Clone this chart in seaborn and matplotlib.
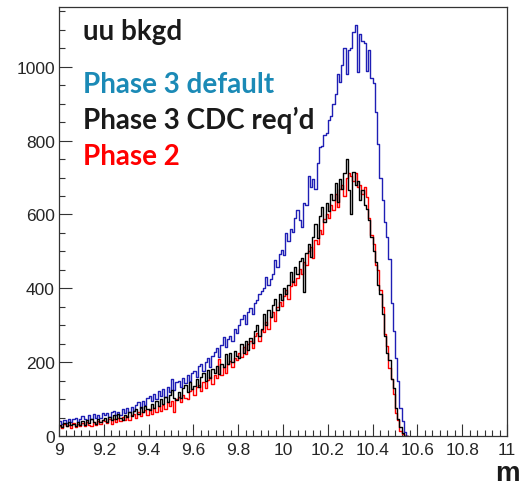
import numpy as np
import pandas as pd
import matplotlib
matplotlib.use("Agg")
import matplotlib.pyplot as plt
from matplotlib.ticker import MultipleLocator
import seaborn as sns

# ---------------- data (bin contents, 0.01-wide bins starting at 9.00) ----------------
bin_start = 9.0
bin_width = 0.01

phase3_default = [
    40, 33, 44, 35, 46, 37, 45, 49, 38, 47,
    53, 45, 42, 56, 47, 59, 48, 57, 50, 61,
    58, 62, 51, 64, 67, 56, 66, 58, 72, 63,
    75, 64, 79, 69, 84, 92, 76, 96, 83, 102,
    108, 94, 114, 100, 122, 108, 126, 106, 134, 120,
    155, 125, 146, 150, 134, 158, 144, 164, 148, 170,
    176, 160, 190, 196, 176, 200, 212, 186, 218, 228,
    238, 214, 246, 268, 240, 264, 272, 256, 290, 278,
    300, 318, 328, 304, 336, 346, 330, 360, 368, 385,
    392, 402, 432, 410, 426, 440, 476, 458, 494, 505,
    490, 550, 528, 560, 552, 590, 612, 584, 565, 630,
    625, 705, 675, 695, 670, 740, 782, 786, 815, 822,
    855, 866, 900, 925, 980, 960, 1005, 1050, 980, 1045,
    1050, 1095, 1112, 985, 1090, 1070, 1065, 990, 1045, 970,
    955, 878, 792, 700, 638, 579, 540, 480, 360, 285,
    210, 150, 75, 40, 10, 0,
]

phase3_cdc = [
    30, 24, 35, 27, 38, 29, 33, 26, 37, 31,
    40, 31, 43, 35, 46, 37, 32, 47, 38, 44,
    50, 39, 52, 43, 56, 46, 60, 48, 42, 58,
    52, 64, 55, 68, 74, 60, 78, 65, 82, 73,
    70, 88, 76, 94, 80, 99, 86, 106, 92, 112,
    124, 104, 98, 120, 104, 130, 138, 118, 146, 128,
    135, 154, 132, 160, 170, 148, 178, 158, 182, 170,
    190, 168, 196, 186, 222, 196, 226, 200, 230, 218,
    212, 248, 224, 256, 232, 266, 252, 284, 300, 270,
    290, 330, 300, 340, 322, 356, 372, 340, 385, 368,
    400, 385, 410, 445, 418, 458, 440, 475, 482, 390,
    495, 520, 485, 540, 575, 535, 595, 620, 580, 630,
    610, 655, 640, 685, 635, 695, 670, 712, 751, 665,
    600, 715, 680, 690, 640, 665, 625, 615, 585, 540,
    500, 470, 410, 385, 330, 270, 225, 205, 155, 130,
    75, 45, 25, 8, 0, 0,
]

phase2 = [
    28, 22, 33, 26, 31, 22, 34, 25, 32, 27,
    35, 27, 38, 30, 26, 39, 31, 41, 33, 43,
    40, 35, 45, 33, 47, 38, 49, 40, 51, 42,
    53, 44, 56, 60, 48, 64, 54, 66, 70, 58,
    72, 60, 76, 66, 80, 69, 85, 74, 91, 80,
    95, 64, 100, 106, 92, 112, 104, 100, 122, 126,
    112, 132, 138, 122, 146, 130, 152, 160, 140, 166,
    158, 208, 165, 186, 170, 196, 202, 186, 212, 205,
    226, 215, 240, 222, 248, 258, 238, 270, 280, 258,
    288, 282, 310, 290, 322, 335, 312, 350, 362, 352,
    380, 395, 372, 405, 420, 410, 428, 452, 440, 470,
    462, 500, 512, 482, 532, 520, 558, 548, 588, 600,
    590, 625, 612, 655, 620, 668, 680, 650, 700, 712,
    705, 690, 712, 675, 680, 655, 675, 648, 590, 545,
    520, 462, 450, 395, 350, 275, 245, 185, 155, 115,
    62, 42, 14, 5, 0, 0,
]

x_ticks = [9, 9.2, 9.4, 9.6, 9.8, 10, 10.2, 10.4, 10.6, 10.8, 11]
x_tick_labels = ["9", "9.2", "9.4", "9.6", "9.8", "10", "10.2", "10.4", "10.6", "10.8", "11"]
y_ticks = [0, 200, 400, 600, 800, 1000]

title_text = "uu bkgd"
legend_labels = ["Phase 3 default", "Phase 3 CDC req\u2019d", "Phase 2"]
x_label = "m"

# ---------------- build table ----------------
n = len(phase3_default)
centers = bin_start + bin_width * (np.arange(n) + 0.5)
df = pd.concat([
    pd.DataFrame({"m": centers, "count": phase3_default, "series": legend_labels[0]}),
    pd.DataFrame({"m": centers, "count": phase2, "series": legend_labels[2]}),
    pd.DataFrame({"m": centers, "count": phase3_cdc, "series": legend_labels[1]}),
], ignore_index=True)

sns.set_style("ticks")
plt.rcParams["font.family"] = ["Liberation Sans", "DejaVu Sans"]

W, H = 521, 489
fig = plt.figure(figsize=(W / 100, H / 100), dpi=100)
ax = fig.add_axes([59 / W, 1 - 437 / H, 448 / W, 429 / H])

line_colors = {legend_labels[0]: "#1f1fb5", legend_labels[1]: "#000000", legend_labels[2]: "#ff0000"}
for name in [legend_labels[0], legend_labels[2], legend_labels[1]]:
    sub = df[df["series"] == name].reset_index(drop=True)
    sns.histplot(data=sub, x="m", weights="count", binwidth=bin_width,
                 binrange=(bin_start, bin_start + bin_width * n), element="step",
                 fill=False, color=line_colors[name], linewidth=1.0, ax=ax, legend=False)

ax.set_xlim(9, 11)
ax.set_ylim(0, 1162)
ax.set_xlabel("")
ax.set_ylabel("")
ax.set_xticks(x_ticks)
ax.set_xticklabels(x_tick_labels)
ax.set_yticks(y_ticks)
ax.xaxis.set_minor_locator(MultipleLocator(0.2 / 6))
ax.yaxis.set_minor_locator(MultipleLocator(50))
ax.tick_params(which="both", direction="in", top=False, right=False, color="#333333", width=0.8)
ax.tick_params(which="major", length=9)
ax.tick_params(which="minor", length=4.5)
ax.tick_params(axis="x", which="major", labelsize=12.5, pad=4)
ax.tick_params(axis="y", which="major", labelsize=12.5, pad=3)
for lab in ax.get_xticklabels() + ax.get_yticklabels():
    lab.set_family(["Liberation Sans", "DejaVu Sans"])
for s in ax.spines.values():
    s.set_visible(True)
    s.set_color("#333333")
    s.set_linewidth(0.9)

def ftxt(px, py, s, color, size, **kw):
    fig.text(px / W, 1 - py / H, s, color=color, fontsize=size, va="baseline", ha="left", **kw)

txt_font = ["Lato", "DejaVu Sans"]
ftxt(83, 40, title_text, "#1a1a1a", 20, fontweight="bold", family=txt_font)
ftxt(83, 93, legend_labels[0], "#1b8ab6", 20, fontweight="bold", family=txt_font)
ftxt(83, 129, legend_labels[1], "#1a1a1a", 20, fontweight="bold", family=txt_font)
ftxt(83, 165, legend_labels[2], "#ff0000", 20, fontweight="bold", family=txt_font)
fig.text(0.997, 1.5 / H, x_label, color="#1a1a1a", fontsize=20, fontweight="bold",
         ha="right", va="bottom", family=["Liberation Sans", "DejaVu Sans"])

fig.savefig("out.png", dpi=100)
